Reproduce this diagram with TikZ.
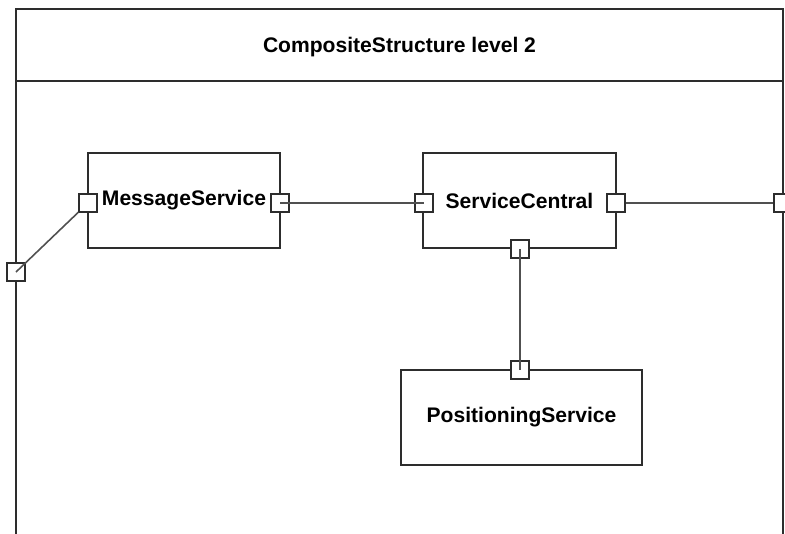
\documentclass[tikz,border=0pt]{standalone}
\usepackage{fontspec}
\setmainfont{Liberation Sans}
\usepackage{xcolor}
\definecolor{edge}{RGB}{45, 45, 45}
\definecolor{wire}{RGB}{80, 80, 80}

\tikzset{
  part/.style={draw=edge, line width=1.2pt, minimum height=1.9cm, inner sep=0pt,
    font=\fontsize{12}{14}\selectfont\bfseries},
  port/.style={draw=edge, fill=white, line width=0.8pt, minimum size=0.36cm, inner sep=0pt},
  link/.style={draw=wire, line width=0.9pt}
}

\begin{document}
\begin{tikzpicture}[x=0.02cm, y=-0.02cm]
      \useasboundingbox (0,0) rectangle (785,534);
      \clip (0,0) rectangle (785,534);
      \fill[white] (0,0) rectangle (785,534);
      % frame
      \draw[color=edge, line width=1.2pt] (16,560)--(16,9)--(783,9)--(783,560);
      \draw[color=edge, line width=1.2pt] (16,81)--(783,81);
      \node[font=\fontsize{12}{14}\selectfont\bfseries, anchor=base] (title) at (399.5,52) {CompositeStructure level 2};
      % parts
      \node[part, minimum width=3.84cm] (msg) at (184,200.5) {MessageService};
      \node[part, minimum width=3.86cm] (central) at (519.5,200.5) {ServiceCentral};
      \node[part, minimum width=4.82cm] (pos) at (521.5,417.5) {PositioningService};
      % ports
      \node[port] (msgL) at (88,203) {};
      \node[port] (msgR) at (280,203) {};
      \node[port] (cenL) at (424,203) {};
      \node[port] (cenR) at (616,203) {};
      \node[port] (cenB) at (520,249) {};
      \node[port] (posT) at (520,370) {};
      \node[port] (frmL) at (16,272) {};
      \node[port] (frmR) at (783,203) {};
      % connectors
      \draw[link] (frmL.center)--(msgL);
      \draw[link] (msgR.center)--(cenL.center);
      \draw[link] (cenR)--(frmR);
      \draw[link] (cenB.center)--(posT.center);
    \end{tikzpicture}
\end{document}
